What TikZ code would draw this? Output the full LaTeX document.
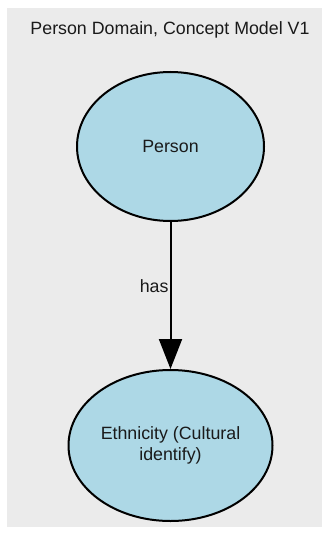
\documentclass[tikz,border=0pt]{standalone}
\usepackage{fontspec}
\setmainfont{Liberation Sans}
\usetikzlibrary{shapes.geometric,arrows.meta}
\definecolor{bggrey}{HTML}{EBEBEB}
\definecolor{nodeblue}{HTML}{ADD8E6}
\definecolor{textdark}{HTML}{1A1A1A}
\begin{document}
\begin{tikzpicture}[x=1pt,y=-1pt,
  concept/.style={ellipse, draw=black, line width=2pt, fill=nodeblue, inner sep=0pt,
    align=center, text=textdark, font=\fontsize{17.8}{21}\selectfont},
  rel/.style={draw=black, line width=2pt, -{Triangle[length=30pt,width=23pt]}},
  lbl/.style={font=\fontsize{17.8}{21}\selectfont, text=textdark}]
\useasboundingbox (0,0) rectangle (329,535);
\fill[bggrey] (7,8) rectangle (322,527);
\node[lbl] (title) at (170,30) {Person Domain, Concept Model V1};
\node[concept, minimum width=187pt, minimum height=149pt] (person) at (170.5,146.5) {Person};
\node[concept, minimum width=204pt, minimum height=151pt] (eth) at (170.5,445.5) {Ethnicity (Cultural\\identify)};
\draw[rel] (person.south) -- node[lbl, pos=0.436, anchor=east, inner sep=1pt] (has) {has} (eth.north);
\end{tikzpicture}
\end{document}
